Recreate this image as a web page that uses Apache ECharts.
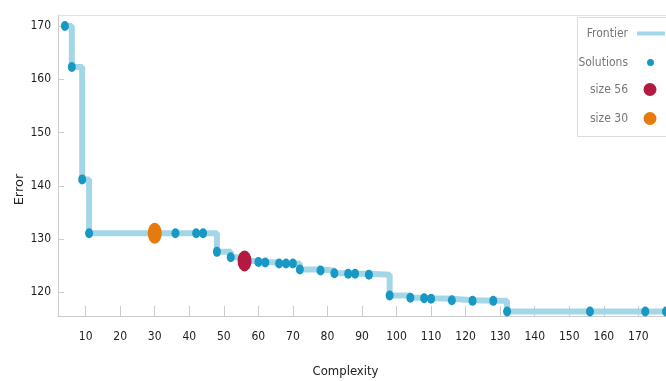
<!DOCTYPE html>
<html>
<head>
<meta charset="utf-8">
<script src="https://cdn.jsdelivr.net/npm/echarts@6/dist/echarts.min.js"></script>
<style>html,body{margin:0;padding:0;background:#fff}#c{width:666px;height:381px}</style>
</head>
<body>
<div id="c"></div>
<script>
const complexity = [4,6,9,11,30,36,42,44,48,52,56,60,62,66,68,70,72,78,82,86,88,92,98,104,108,110,116,122,128,132,156,172,178];
const errorVals = [170,162.3,141.2,131.1,131.1,131.1,131.1,131.1,127.6,126.6,125.9,125.7,125.6,125.4,125.4,125.4,124.3,124.1,123.6,123.5,123.5,123.3,119.4,119.0,118.9,118.8,118.5,118.4,118.4,116.4,116.4,116.4,116.4];
const highlight56 = [[56, 125.9]];
const highlight30 = [[30, 131.1]];
const xTicks = [10,20,30,40,50,60,70,80,90,100,110,120,130,140,150,160,170];
const yTicks = [120,130,140,150,160,170];

const pts = complexity.map((c, i) => [c, errorVals[i]]);
const FONT = '"DejaVu Sans Condensed", "Liberation Sans Narrow", sans-serif';
const chart = echarts.init(document.getElementById('c'));
function leg(name, right, top, w, h, padR) {
  return {orient: 'vertical', align: 'right', padding: 0, right: right, top: top,
    data: [{name: name, icon: name === 'Frontier' ? 'rect' : 'circle'}], itemWidth: w, itemHeight: h,
    textStyle: {color: '#777', fontFamily: FONT, fontSize: 12, padding: [0, padR, 0, 0]}};
}
chart.setOption({
  animation: false,
  grid: {left: 58, right: 0, top: 15, bottom: 65, containLabel: false, outerBoundsMode: 'none'},
  xAxis: [{
    type: 'value', min: 2, max: 178,
    name: 'Complexity', nameLocation: 'middle', nameGap: 49, nameMoveOverlap: false,
    nameTextStyle: {color: '#222', fontFamily: FONT, fontSize: 13, padding: [0, 33, 0, 0]},
    axisLine: {lineStyle: {color: '#ccc'}},
    axisTick: {show: true, inside: true, length: 10, lineStyle: {color: '#ccc'}, customValues: xTicks},
    axisLabel: {color: '#222', fontFamily: FONT, fontSize: 12, margin: 15, customValues: xTicks},
    splitLine: {show: false}
  }, {
    type: 'value', position: 'top', min: 2, max: 178,
    axisLine: {show: true, lineStyle: {color: '#e2e2e2'}},
    axisTick: {show: false}, axisLabel: {show: false}, splitLine: {show: false}
  }],
  yAxis: {
    type: 'value', min: 115.56, max: 172.06,
    name: 'Error', nameLocation: 'middle', nameGap: 32, nameRotate: 90, nameMoveOverlap: false,
    nameTextStyle: {color: '#222', fontFamily: '"DejaVu Sans", sans-serif', fontSize: 13, padding: [0, 48, 0, 0]},
    axisLine: {show: true, lineStyle: {color: '#ccc'}},
    axisTick: {show: true, inside: true, length: 6, lineStyle: {color: '#ccc'}, customValues: yTicks},
    axisLabel: {color: '#222', fontFamily: FONT, fontSize: 12, margin: 7, customValues: yTicks},
    splitLine: {show: false}
  },
  graphic: [{type: 'rect', shape: {x: 577.5, y: 17.5, width: 100, height: 119},
    style: {fill: '#fff', stroke: '#ddd', lineWidth: 1}, z: 0}],
  legend: [
    leg('Frontier', 1, 27.5, 28, 4, 4),
    leg('Solutions', 12, 56.5, 7, 9, 14),
    leg('size 56', 9.5, 83, 13, 16, 10.5),
    leg('size 30', 9.5, 112, 13, 16, 10.5)
  ],
  series: [
    {name: 'Frontier', type: 'line', step: 'end', data: pts, showSymbol: false, symbol: 'none',
      lineStyle: {color: '#a3d7e7', width: 6}, itemStyle: {color: '#a3d7e7'}, z: 1},
    {name: 'Solutions', type: 'scatter', data: pts, symbol: 'circle', symbolSize: [8, 10],
      itemStyle: {color: '#1898c4', opacity: 1}, z: 2},
    {name: 'size 56', type: 'scatter', data: highlight56, symbol: 'circle', symbolSize: [14, 21],
      itemStyle: {color: '#b31a42', opacity: 1}, z: 3},
    {name: 'size 30', type: 'scatter', data: highlight30, symbol: 'circle', symbolSize: [14, 21],
      itemStyle: {color: '#e67a0c', opacity: 1}, z: 3}
  ]
});
</script>
</body>
</html>
